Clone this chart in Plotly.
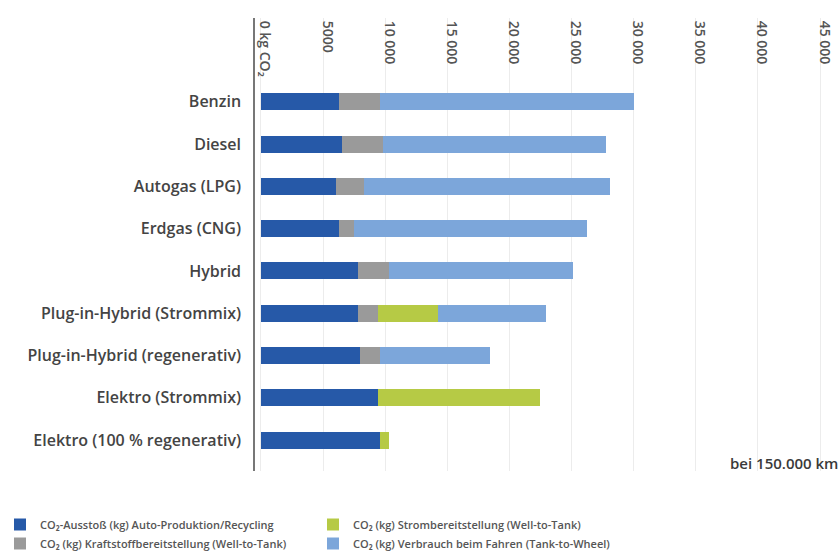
import plotly.graph_objects as go

categories = ["Benzin", "Diesel", "Autogas (LPG)", "Erdgas (CNG)", "Hybrid",
              "Plug-in-Hybrid (Strommix)", "Plug-in-Hybrid (regenerativ)",
              "Elektro (Strommix)", "Elektro (100 % regenerativ)"]

produktion = [6300, 6500, 6000, 6300, 7800, 7800, 7950, 9400, 9600]
kraftstoff = [3300, 3300, 2300, 1200, 2500, 1600, 1600, 0, 0]
strom = [0, 0, 0, 0, 0, 4850, 0, 13050, 700]
verbrauch = [20400, 18000, 19800, 18700, 14800, 8700, 8850, 0, 0]

tick_vals = [0, 5000, 10000, 15000, 20000, 25000, 30000, 35000, 40000, 45000]
tick_text = ["0 kg CO₂", "5000", "10 000", "15 000", "20 000", "25 000",
             "30 000", "35 000", "40 000", "45 000"]

series = [
    ("CO₂-Ausstoß (kg) Auto-Produktion/Recycling", produktion, "#2659a8", 1),
    ("CO₂ (kg) Kraftstoffbereitstellung (Well-to-Tank)", kraftstoff, "#9a9a9a", 3),
    ("CO₂ (kg) Strombereitstellung (Well-to-Tank)", strom, "#b6ca45", 2),
    ("CO₂ (kg) Verbrauch beim Fahren (Tank-to-Wheel)", verbrauch, "#7ca6da", 4),
]

fig = go.Figure()
for name, vals, color, rank in series:
    fig.add_trace(go.Bar(
        y=categories, x=vals, name=name, orientation="h",
        marker=dict(color=color, line=dict(width=0)),
        legendrank=rank, hoverinfo="x+name",
    ))

n = len(categories)
pw = 840 - 255
fig.update_layout(
    width=840, height=558,
    margin=dict(l=255, r=0, t=18, b=86),
    barmode="stack", bargap=0.6,
    plot_bgcolor="white", paper_bgcolor="white",
    font=dict(family="Open Sans", color="#3a3a3a", size=11),
    xaxis=dict(
        side="top", range=[-480, 46600], automargin=False,
        tickvals=tick_vals, ticktext=tick_text,
        tickangle=90, ticklabelposition="inside", ticklabelshift=4,
        ticklabelstandoff=-8,
        tickfont=dict(size=14, color="#555", weight=600),
        showgrid=True, gridcolor="#ececec", gridwidth=1,
        zeroline=False, showline=False, ticks="",
    ),
    yaxis=dict(
        categoryorder="array", categoryarray=categories,
        range=[n - 1 + 0.73, -1.98], autorange=False, automargin=False,
        showline=True, linecolor="#777", linewidth=1.5,
        showgrid=False, ticks="", ticklabelstandoff=9,
        tickfont=dict(size=16, color="#444", weight=600),
    ),
    legend=dict(
        orientation="h", x=-255 / pw, xanchor="left",
        y=-0.085, yanchor="top", traceorder="normal",
        entrywidth=268, entrywidthmode="pixels",
        font=dict(size=11, color="#555", weight=600),
        itemwidth=30, tracegroupgap=0,
    ),
    annotations=[dict(
        text="bei 150.000 km", xref="paper", yref="paper",
        x=1.0, y=0.018, xanchor="right", yanchor="middle",
        showarrow=False, font=dict(size=15, color="#3a3a3a", weight=600),
    )],
)

fig.write_html("out.html")
